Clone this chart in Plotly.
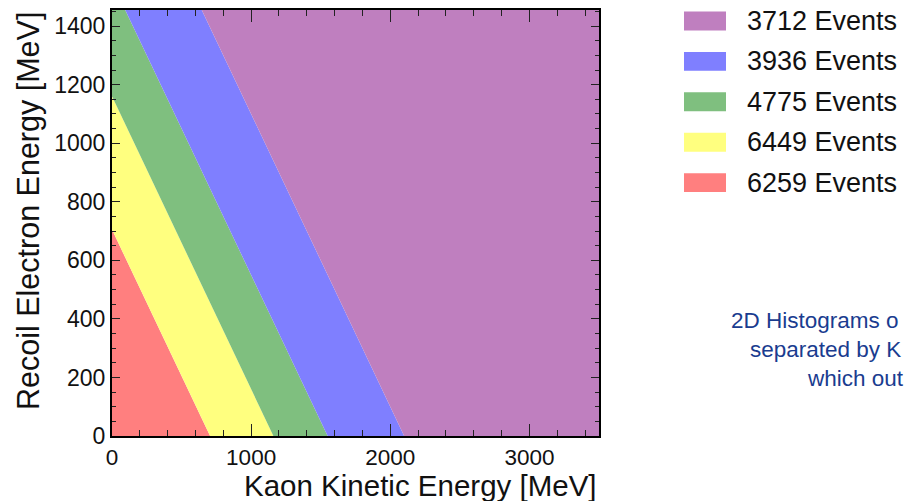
import plotly.graph_objects as go

# ---------------- data ----------------
x_range = [0, 3500]            # Kaon kinetic energy axis [MeV]
y_range = [0, 1455]            # Recoil electron energy axis [MeV]
# bands of (kaon + electron) energy, lower/upper edges in MeV
band_lo = [0, 705, 1160, 1550, 2100]
band_hi = [705, 1160, 1550, 2100, 6000]
band_colors = ["#FF7F7F", "#FFFF7F", "#7FBF7F", "#7F7FFF", "#BF7FBF"]
band_events = [6259, 6449, 4775, 3936, 3712]
legend_order = [4, 3, 2, 1, 0]   # top to bottom in legend
x_ticks = [0, 1000, 2000, 3000]
y_ticks = [0, 200, 400, 600, 800, 1000, 1200, 1400]
x_title = "Kaon Kinetic Energy [MeV]"
y_title = "Recoil Electron Energy [MeV]"
note_lines = ["2D Histograms o", "separated by K", "which out"]

# ---------------- layout helpers ----------------
W, H = 904, 501
ML, MR, MT, MB = 112, 305, 8, 65
PW = W - ML - MR
PH = H - MT - MB


def px(xp):
    return (xp - ML) / PW


def py(yp):
    return (H - MB - yp) / PH


FONT = "Liberation Sans, Arial, Helvetica, sans-serif"

fig = go.Figure()
for lo, hi, col in zip(band_lo, band_hi, band_colors):
    fig.add_trace(go.Scatter(
        x=[lo, hi, 0, 0, lo], y=[0, 0, hi, lo, 0],
        mode="lines", fill="toself", fillcolor=col,
        line=dict(width=0, color=col), hoverinfo="skip", showlegend=False))

shapes = []
annotations = []
# legend (drawn as swatches + text to the right of the plot)
row0, row_step = 19, 40.6
for i, idx in enumerate(legend_order):
    yc = row0 + i * row_step
    shapes.append(dict(type="rect", xref="paper", yref="paper",
                       x0=px(684), x1=px(726), y0=py(yc - 9.5), y1=py(yc + 9.5),
                       fillcolor=band_colors[idx], line=dict(width=0)))
    annotations.append(dict(xref="paper", yref="paper", x=px(745), y=py(yc),
                            xanchor="left", yanchor="middle", showarrow=False,
                            text=f"{band_events[idx]} Events",
                            font=dict(family=FONT, size=27, color="#111111")))

# axis titles (right / top aligned like ROOT)
annotations.append(dict(xref="paper", yref="paper", x=1.0, y=py(485.5),
                        xanchor="right", yanchor="middle", showarrow=False,
                        text=x_title, font=dict(family=FONT, size=29.5, color="#111111")))
annotations.append(dict(xref="paper", yref="paper", x=px(28), y=py(8),
                        xanchor="center", yanchor="top", showarrow=False, textangle=-90,
                        text=y_title, font=dict(family=FONT, size=30.5, color="#111111")))

# side note text
for (line, xl, yc) in zip(note_lines, [729, 748, 805], [320, 349, 378]):
    annotations.append(dict(xref="paper", yref="paper", x=px(xl), y=py(yc),
                            xanchor="left", yanchor="middle", showarrow=False,
                            text=line, font=dict(family=FONT, size=22.5, color="#1A3C8F")))

fig.update_layout(
    width=W, height=H,
    margin=dict(l=ML, r=MR, t=MT, b=MB, pad=0),
    paper_bgcolor="white", plot_bgcolor="white",
    shapes=shapes, annotations=annotations,
    showlegend=False,
    font=dict(family=FONT, color="#111111"),
)
fig.update_xaxes(
    range=x_range, tickvals=x_ticks, ticktext=[str(v) for v in x_ticks],
    showgrid=False, zeroline=False,
    showline=True, linecolor="black", linewidth=2, mirror="ticks",
    ticks="inside", ticklen=12, tickwidth=1, tickcolor="#222222",
    minor=dict(dtick=200, ticks="inside", ticklen=6, tickwidth=1, tickcolor="#222222", showgrid=False),
    tickfont=dict(family=FONT, size=22.5, color="#111111"),
)
fig.update_yaxes(
    range=y_range, tickvals=y_ticks, ticktext=[str(v) for v in y_ticks],
    showgrid=False, zeroline=False,
    showline=True, linecolor="black", linewidth=2, mirror="ticks",
    ticks="inside", ticklen=8, tickwidth=1, tickcolor="#222222",
    minor=dict(dtick=50, ticks="inside", ticklen=4, tickwidth=1, tickcolor="#222222", showgrid=False),
    tickfont=dict(family=FONT, size=23, color="#111111"),
)

fig.write_html("out.html")
